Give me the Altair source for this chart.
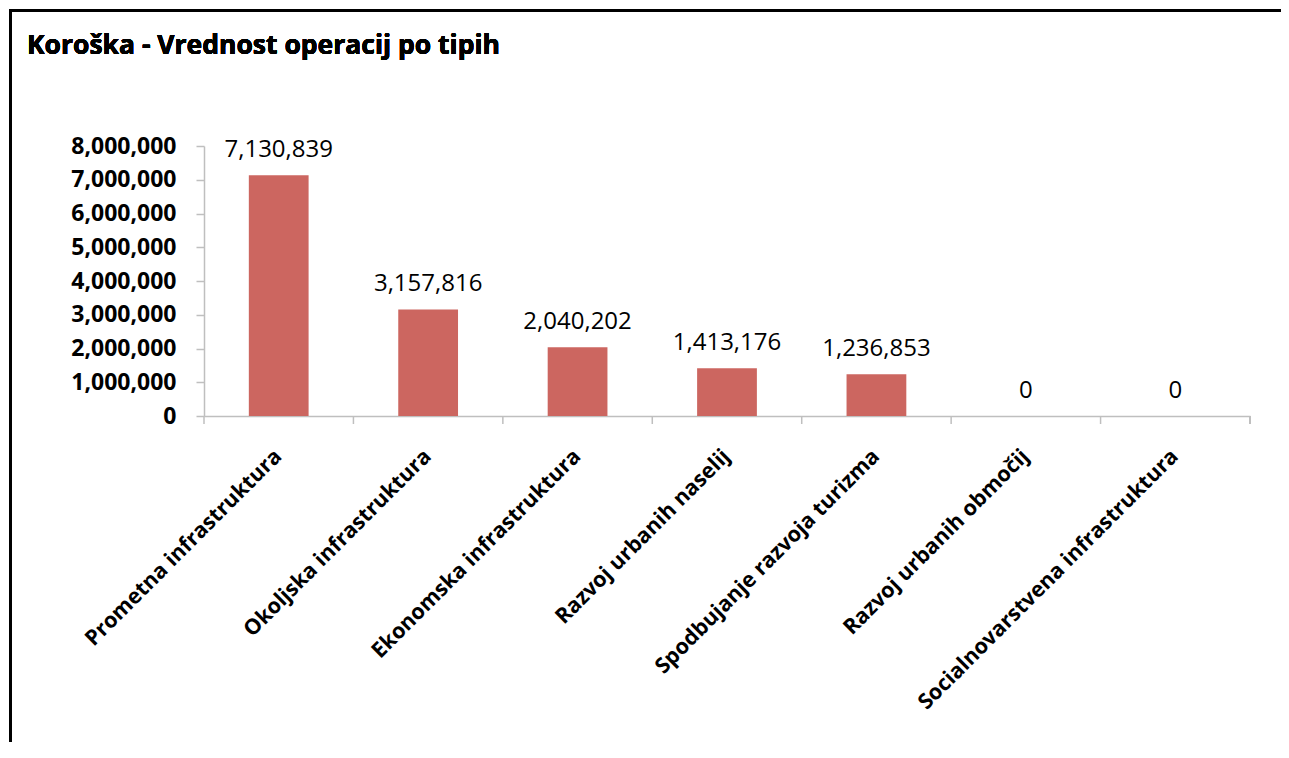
import altair as alt
import pandas as pd

categories = [
    "Prometna infrastruktura",
    "Okoljska infrastruktura",
    "Ekonomska infrastruktura",
    "Razvoj urbanih naselij",
    "Spodbujanje razvoja turizma",
    "Razvoj urbanih območij",
    "Socialnovarstvena infrastruktura",
]
values = [7130839, 3157816, 2040202, 1413176, 1236853, 0, 0]
y_ticks = [0, 1000000, 2000000, 3000000, 4000000, 5000000, 6000000, 7000000, 8000000]
title_text = "Koroška - Vrednost operacij po tipih"

df = pd.DataFrame({"cat": categories, "val": values})

FONT = "Open Sans"
W, H = 1046, 270
PL, PT = 196, 138
PR = 1281 - 8 - PL - W
PB = 742 - 8 - PT - H

xscale = alt.Scale(domain=categories, paddingInner=0, paddingOuter=0)
yscale = alt.Scale(domain=[0, 8000000], nice=False)

xaxis = alt.Axis(labelAngle=-45, labelAlign="right", labelBaseline="middle",
                 labelFont=FONT, labelFontSize=21.5, labelFontWeight="bold",
                 labelColor="#000000", labelPadding=37, ticks=False,
                 domainColor="#BFBFBF", domainWidth=1.5, labelLimit=0, title=None)
yaxis = alt.Axis(values=y_ticks, format=",d", tickCount=9,
                 labelFont=FONT, labelFontSize=23, labelFontWeight="bold",
                 labelColor="#000000", labelPadding=20, tickSize=8,
                 labelOverlap=False, labelFlush=False,
                 tickColor="#BFBFBF", tickWidth=1.5, domainColor="#BFBFBF",
                 domainWidth=1.5, grid=False, title=None)

base = alt.Chart(df)
X = alt.X("cat:N", scale=xscale, sort=categories, axis=xaxis)
Y = alt.Y("val:Q", scale=yscale, axis=yaxis)

bars = base.mark_bar(color="#CC6660", width=alt.RelativeBandSize(0.4)).encode(x=X, y=Y)

labels = base.mark_text(font=FONT, fontSize=24, color="#000000", baseline="alphabetic",
                        dy=-18).encode(
    x=X, y=Y, text=alt.Text("val:Q", format=",d"),
)

ticks = base.mark_rule(color="#BFBFBF", strokeWidth=1.5).encode(
    x=alt.X("cat:N", scale=xscale, sort=categories, axis=xaxis, bandPosition=0),
    y=alt.value(H),
    y2=alt.value(H + 8),
)
end_tick = base.mark_rule(color="#BFBFBF", strokeWidth=1.5).encode(
    x=alt.value(W), y=alt.value(H), y2=alt.value(H + 8),
)

fx = 10.5 - 8 - PL
fy = 10.5 - 8 - PT
frame_left = base.mark_rule(color="#000000", strokeWidth=3).encode(
    x=alt.value(fx), y=alt.value(fy - 1.5), y2=alt.value(H + PB),
)
frame_top = base.mark_rule(color="#000000", strokeWidth=3).encode(
    x=alt.value(fx - 1.5), x2=alt.value(W + PR), y=alt.value(fy),
)

title = base.mark_text(font=FONT, fontSize=26.5, fontWeight="bold", color="#000000",
                       align="left", baseline="alphabetic").encode(
    x=alt.value(27 - 8 - PL), y=alt.value(54 - 8 - PT), text=alt.value(title_text),
)

chart = alt.layer(frame_left, frame_top, title, bars, labels, ticks, end_tick).properties(
    width=W, height=H,
    autosize=alt.AutoSizeParams(type="none"),
    padding={"left": PL, "top": PT, "right": PR, "bottom": PB},
).configure_view(stroke=None)

chart.save("out.html", embed_options={"renderer": "svg", "actions": False})
